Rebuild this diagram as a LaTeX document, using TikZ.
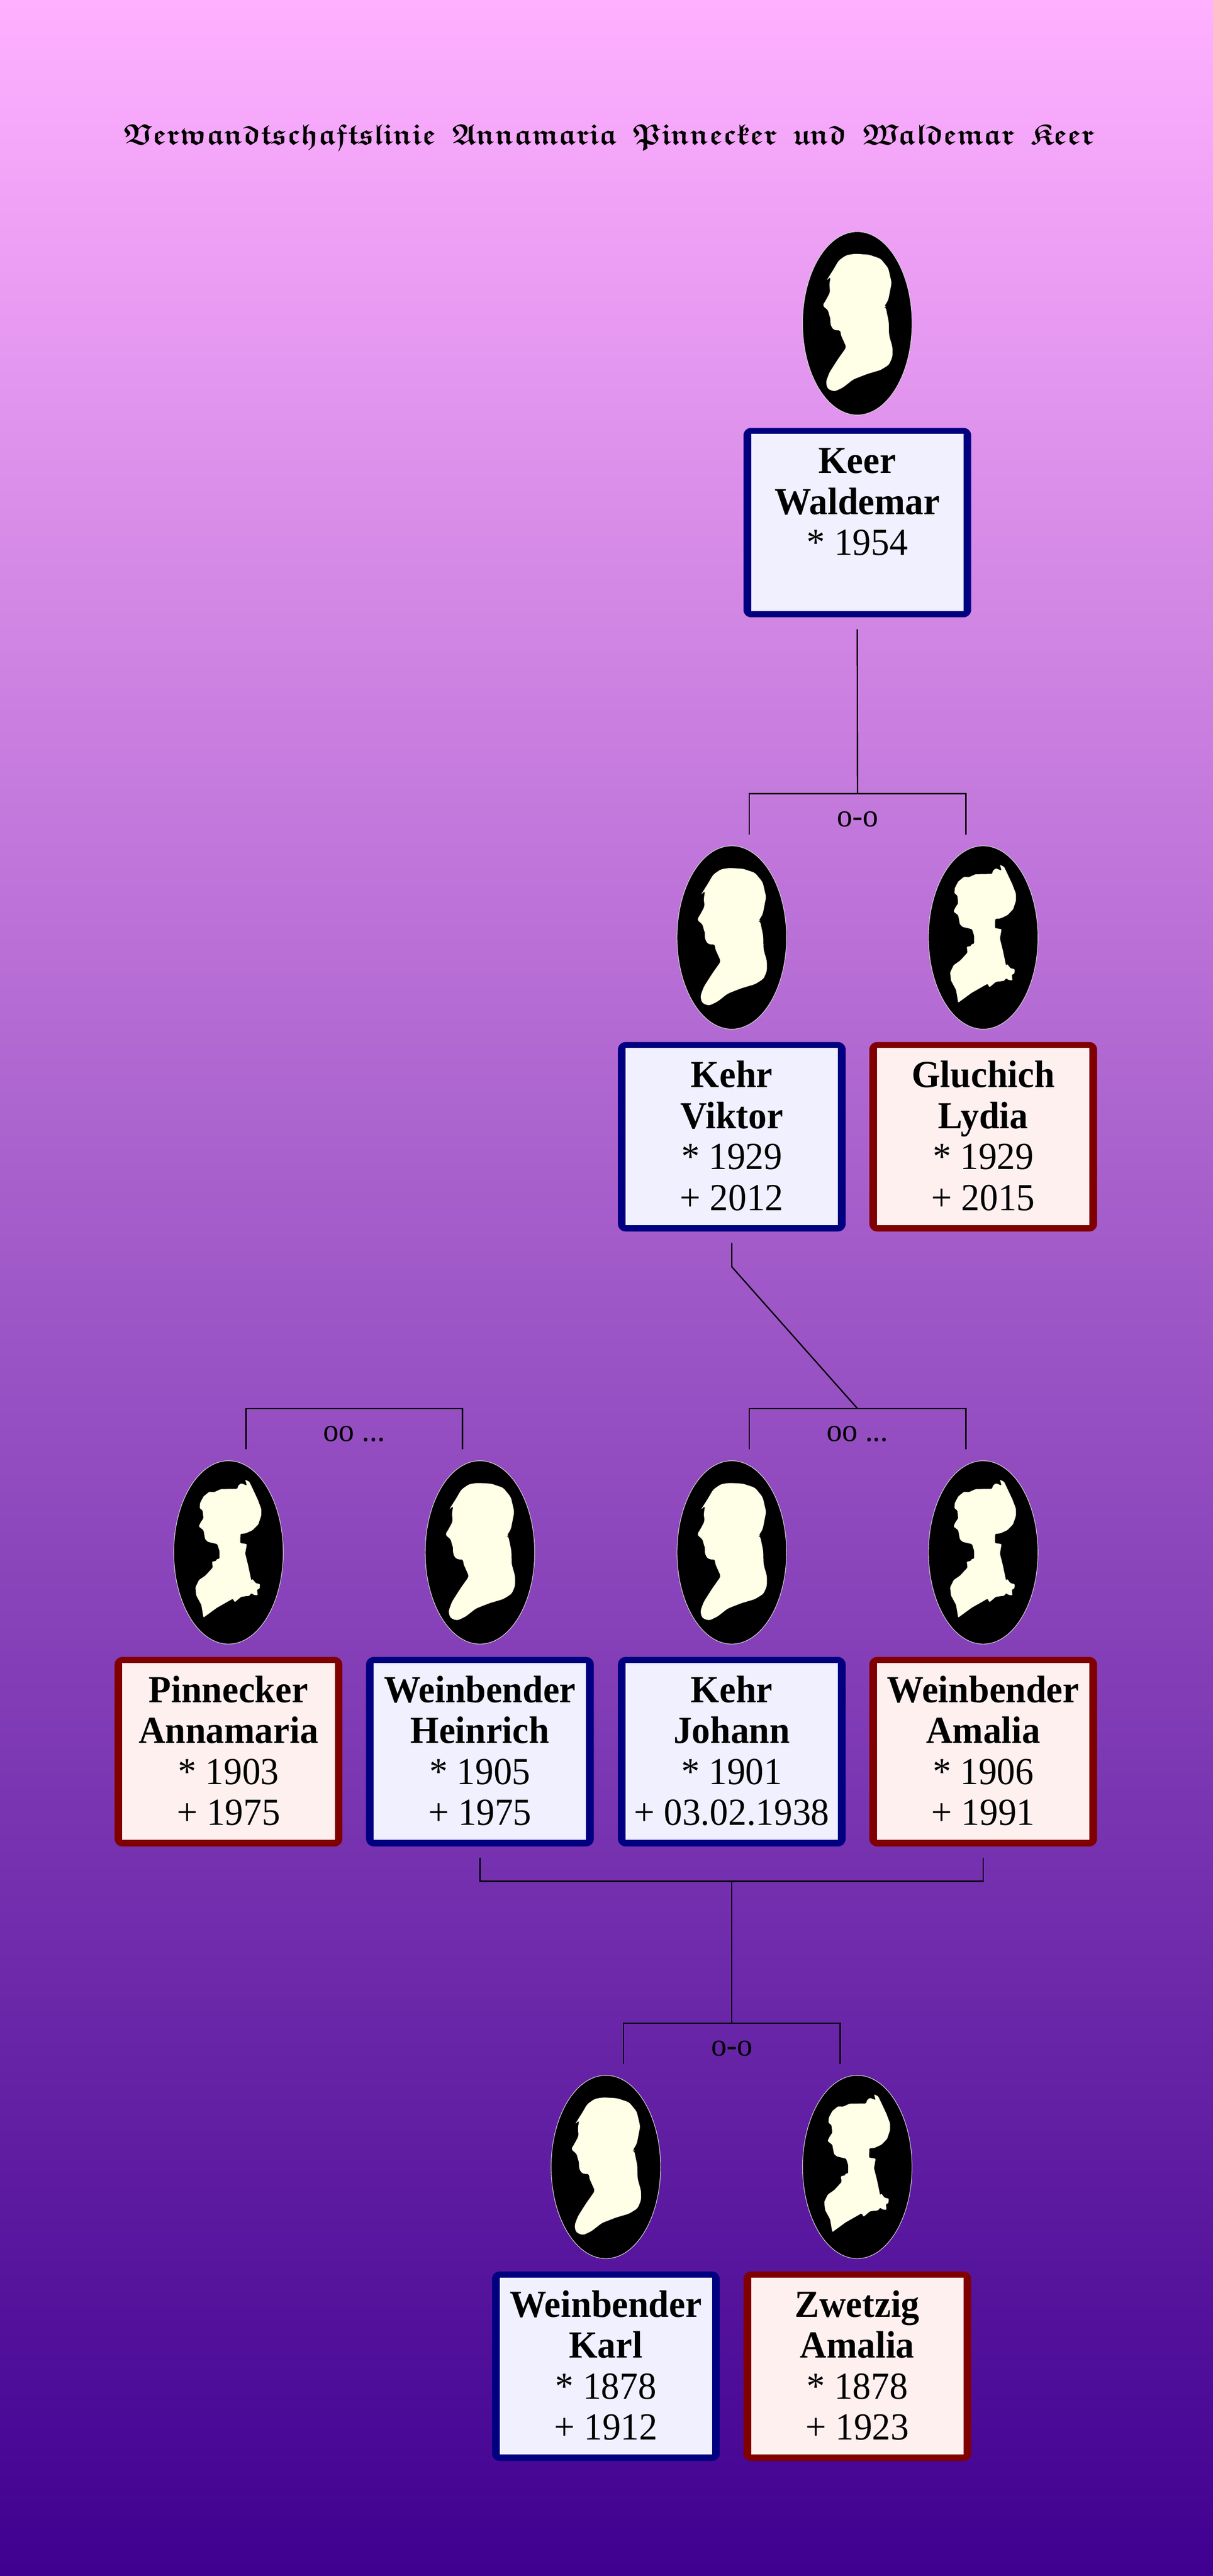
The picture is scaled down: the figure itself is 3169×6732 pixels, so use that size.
\documentclass[tikz,border=0pt]{standalone}
\usepackage{fontspec}
\setmainfont[FakeStretch=0.96]{Liberation Serif}
\usepackage{amsfonts}
\usetikzlibrary{shapes.geometric,calc}
\definecolor{bgtop}{HTML}{FFB0FF}
\definecolor{bgbot}{HTML}{400090}
\definecolor{manedge}{HTML}{000080}
\definecolor{manfill}{HTML}{F0F0FF}
\definecolor{womanedge}{HTML}{800000}
\definecolor{womanfill}{HTML}{FFF0F0}
\definecolor{ivory}{HTML}{FFFFE8}
\tikzset{
  frame/.style={rectangle,draw=none,rounded corners=20pt,minimum width=595pt,minimum height=495pt,inner sep=0pt,anchor=north},
  manframe/.style={frame,fill=manedge},
  womanframe/.style={frame,fill=womanedge},
  face/.style={rectangle,draw=none,inner sep=0pt,anchor=north},
  manface/.style={face,fill=manfill},
  womanface/.style={face,fill=womanfill},
  oval/.style={ellipse,fill=black,draw=black!15,line width=1.5pt,minimum width=286pt,minimum height=479pt,inner sep=0pt},
  kin/.style={draw=black,line width=3.5pt,line cap=butt,line join=miter},
  marriage/.style={anchor=base,inner sep=0pt,font=\fontsize{84}{90}\selectfont},
  sil/.style={fill=ivory,draw=none,rounded corners=6pt}
}
\newcommand{\malesil}[2]{%
  \fill[sil,shift={(#1,#2)},xscale=0.4464,yscale=0.7018,shift={(-764,-406)}]
  (750,147)--(700,152)--(655,172)--(625,205)--(582,248)--(608,232)--(600,262)--(605,290)--(580,320)--(560,340)--(595,358)--(598,375)--(608,385)--(605,400)--(612,420)--(630,432)--(668,432)--(665,445)--(700,495)--(650,540)--(600,590)--(580,625)--(590,650)--(630,660)--(680,645)--(740,615)--(820,595)--(900,580)--(950,560)--(970,530)--(970,495)--(950,450)--(948,400)--(930,345)--(920,345)--(945,320)--(965,255)--(945,200)--(900,165)--(830,150)--cycle;}
\newcommand{\femalesil}[2]{%
  \fill[sil,rounded corners=2pt,shift={(#1,#2)},xscale=0.3333,yscale=0.3827,shift={(-591,-802)}]
  (440,388)--(480,390)--(530,370)--(660,368)--(668,345)--(690,330)--(735,345)--(722,305)--(755,320)--(785,375)--(820,440)--(848,505)--(848,550)--(825,610)--(780,650)--(725,672)--(685,675)--(683,738)--(735,745)--(722,810)--(745,890)--(762,960)--(770,995)--(778,982)--(805,1012)--(838,1018)--(835,1050)--(815,1055)--(820,1095)--(790,1092)--(770,1080)--(755,1098)--(690,1105)--(640,1142)--(625,1118)--(500,1180)--(395,1247)--(378,1160)--(338,1095)--(332,1040)--(360,990)--(410,960)--(468,905)--(462,865)--(495,860)--(498,848)--(520,845)--(520,790)--(503,745)--(430,730)--(408,712)--(395,650)--(358,625)--(372,598)--(395,568)--(388,515)--(365,500)--(368,465)--(395,420)--cycle;}
% id, x, row top, man/woman, male/female, text
\newcommand{\person}[6]{%
  \node[oval] (#1p) at (#2,#3-273) {};
  \csname #5sil\endcsname{#2}{#3-273}
  \node[#4frame] (#1f) at (#2,#3) {};
  \node[#4face] (#1) at (#2,#3+16) {\parbox[c][462pt][t]{555pt}{\centering\fontsize{100}{107}\selectfont\vspace*{28pt}\strut #6}};
}
% id, centre x, row top of the couple below, label
\newcommand{\couple}[4]{%
  \coordinate (#1) at (#2,#3-649);
  \coordinate (#1l) at (#2-283,#3-649);
  \coordinate (#1r) at (#2+283,#3-649);
  \coordinate (#1a) at (#2-283,#3-542);
  \coordinate (#1b) at (#2+283,#3-542);
  \draw[kin] (#1a) -- (#1l) -- (#1r) -- (#1b);
  \node[marriage] (#1t) at (#2,#3-563) {#4};
}
\begin{document}
\begin{tikzpicture}[x=1pt,y=-1pt]
\useasboundingbox (0,0) rectangle (3169,6732);
\shade[top color=bgtop,bottom color=bgbot] (0,0) rectangle (3169,6732);
\node[anchor=base,inner sep=0pt] (title) at (1592,377) {\resizebox{2535pt}{!}{\fontsize{78}{80}\selectfont\mathversion{bold}$\mathfrak{Verwandtschaftslinie}\hspace{0.55em}\mathfrak{Annamaria}\hspace{0.55em}\mathfrak{Pinnecker}\hspace{0.55em}\mathfrak{und}\hspace{0.55em}\mathfrak{Waldemar}\hspace{0.55em}\mathfrak{Keer}$}};

\person{keer}{2240}{1118}{man}{male}{\textbf{Keer}\\\textbf{Waldemar}\\{}* 1954}
\person{viktor}{1912}{2723}{man}{male}{\textbf{Kehr}\\\textbf{Viktor}\\{}* 1929\\{}+ 2012}
\person{lydia}{2569}{2723}{woman}{female}{\textbf{Gluchich}\\\textbf{Lydia}\\{}* 1929\\{}+ 2015}
\person{anna}{597}{4330}{woman}{female}{\textbf{Pinnecker}\\\textbf{Annamaria}\\{}* 1903\\{}+ 1975}
\person{heinrich}{1254}{4330}{man}{male}{\textbf{Weinbender}\\\textbf{Heinrich}\\{}* 1905\\{}+ 1975}
\person{johann}{1912}{4330}{man}{male}{\textbf{Kehr}\\\textbf{Johann}\\{}* 1901\\{}+ 03.02.1938}
\person{amalia}{2569}{4330}{woman}{female}{\textbf{Weinbender}\\\textbf{Amalia}\\{}* 1906\\{}+ 1991}
\person{karl}{1583}{5936}{man}{male}{\textbf{Weinbender}\\\textbf{Karl}\\{}* 1878\\{}+ 1912}
\person{zwetzig}{2240}{5936}{woman}{female}{\textbf{Zwetzig}\\\textbf{Amalia}\\{}* 1878\\{}+ 1923}

\couple{ma}{2240.5}{2723}{o-o}
\couple{mb}{2240.5}{4330}{oo ...}
\couple{mc}{925.5}{4330}{oo ...}
\couple{md}{1912}{5936}{o-o}

\draw[kin] ($(keerf.south)+(0,31)$) -- (ma);
\coordinate (velbow) at ($(viktorf.south)+(0,92)$);
\draw[kin] ($(viktorf.south)+(0,30)$) -- (velbow) -- (mb);
\coordinate (hb) at ($(heinrichf.south)+(0,29)$);
\coordinate (ab) at ($(amaliaf.south)+(0,29)$);
\coordinate (hc) at ($(heinrichf.south)+(0,91)$);
\coordinate (ac) at ($(amaliaf.south)+(0,91)$);
\draw[kin] (hb) -- (hc) -- (ac) -- (ab);
\draw[kin] ($(johannf.south)+(0,91)$) -- (md);
\end{tikzpicture}
\end{document}
